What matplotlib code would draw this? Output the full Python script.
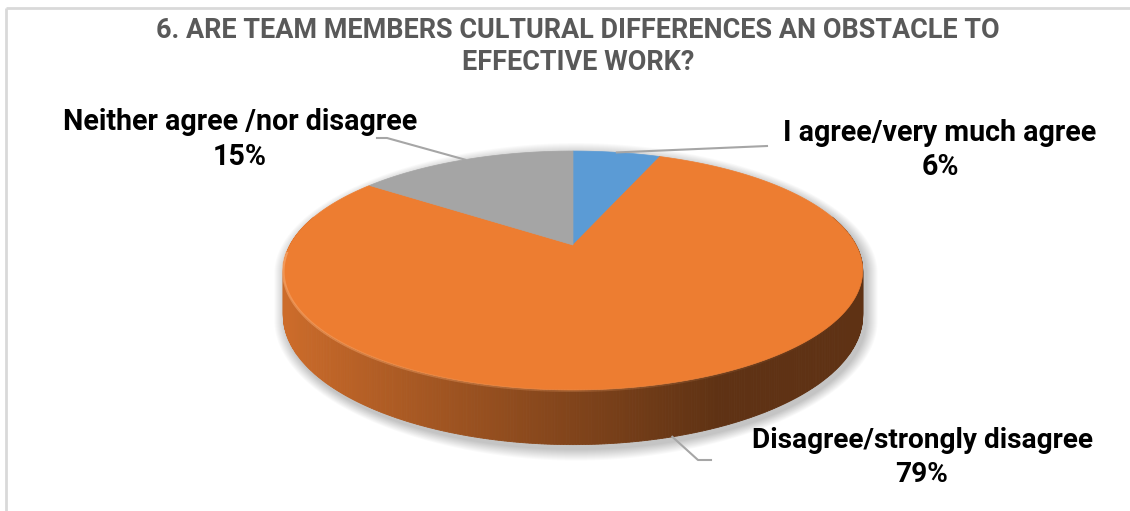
import numpy as np
import matplotlib.pyplot as plt
import matplotlib.colors as mcolors
from matplotlib.collections import LineCollection

# Survey answers (percent)
categories = ["I agree/very much agree", "Disagree/strongly disagree", "Neither agree /nor disagree"]
shares = [6, 79, 15]
slice_colors = ["#5B9BD5", "#ED7D31", "#A5A5A5"]
title_lines = ["6. ARE TEAM MEMBERS CULTURAL DIFFERENCES AN OBSTACLE TO", "EFFECTIVE WORK?"]

FONT = ["Liberation Sans Narrow", "Roboto", "DejaVu Sans"]
plt.rcParams["font.family"] = FONT

# pie geometry in pixels (perspective disc)
CX, CY = 573, 245      # apex of the slices
R, RY = 283, 114
P = 0.2135             # perspective strength
H = 43                 # thickness of the disc


def proj(t_deg, depth=0.0):
    t = np.radians(t_deg)
    u, v = np.cos(t), np.sin(t)
    s = 1.0 / (1.0 + P * v)
    return CX + R * u * s, CY - RY * v * s + depth * s


# slice angles: start at 12 o'clock, clockwise
total = float(sum(shares))
bounds = 90 - 360 * np.concatenate([[0], np.cumsum(shares)]) / total
theta0, theta1 = bounds[:-1], bounds[1:]


def slice_at(t_deg):
    frac = ((90 - t_deg) % 360) / 360.0
    cum = np.cumsum(shares) / total
    return int(np.searchsorted(cum, frac, side="right"))


fig = plt.figure(figsize=(11.3, 5.11), dpi=100)
ax = fig.add_axes([0, 0, 1, 1])
ax.set_xlim(0, 1130)
ax.set_ylim(511, 0)
ax.axis("off")

# chart border
ax.plot([6, 1130], [8, 8], color="#D9D9D9", lw=2, solid_capstyle="butt")
ax.plot([6, 6], [8, 511], color="#D9D9D9", lw=2, solid_capstyle="butt")

# soft shadow around the outline
t_sil = np.degrees(np.arcsin(P))
t_back = np.linspace(-t_sil, 180 + t_sil, 200)
t_front = np.linspace(180 + t_sil, 360 - t_sil, 200)
bx, by = proj(t_back)
fx, fy = proj(t_front, H)
sx = np.concatenate([bx, fx])
sy = np.concatenate([by, fy])
dx, dy = sx - CX, sy - 300
dn = np.hypot(dx, dy)
for k in range(12, 0, -1):
    ax.fill(sx + dx / dn * k + 3, sy + dy / dn * k + 4, color="black",
            alpha=0.02, lw=0, zorder=1)

# side wall, shaded from left to right
step = 0.5
for t in np.arange(165, 375, step):
    idx = slice_at(t + step / 2)
    x0, y0 = proj(t)
    x1, y1 = proj(t + step)
    x2, y2 = proj(t + step, H)
    x3, y3 = proj(t, H)
    xm = (x0 + x1) / 2
    f = 0.86 - 0.46 * np.clip((xm - 290) / (720 - 290), 0, 1) ** 0.9
    base = np.array(mcolors.to_rgb(slice_colors[idx]))
    col = base * f
    ax.fill([x0, x1, x2, x3], [y0, y1, y2, y3], color=col, lw=0.6, ec=col, zorder=2)

# top face
for i, (a0, a1) in enumerate(zip(theta0, theta1)):
    ts = np.linspace(a0, a1, 300)
    px, py = proj(ts)
    ax.fill(np.concatenate([[CX], px]), np.concatenate([[CY], py]),
            color=slice_colors[i], lw=0.5, ec=slice_colors[i], zorder=3)

# light rim on the front edge, fading to the right
ts = np.linspace(183, 330, 300)
rx, ry = proj(ts)
pts = np.column_stack([rx, ry + 0.8]).reshape(-1, 1, 2)
segs = np.concatenate([pts[:-1], pts[1:]], axis=1)
fade = np.clip(1 - (ts[:-1] - 183) / (330 - 183), 0, 1) ** 1.3
rim_rgba = [(0.97, 0.66, 0.43, 0.75 * a) for a in fade]
ax.add_collection(LineCollection(segs, colors=rim_rgba, linewidths=1.8, zorder=4))

# labels with leader lines
mid = (theta0 + theta1) / 2
label_pos = [(940, 133, 167), (922, 440, 474), (240, 122, 157)]
label_w = [314, 341, 355]
elbows = [[(767, 146)], [(698, 460), (711, 460)], [(387, 138), (377, 138)]]

renderer = fig.canvas.get_renderer()


def fit(txt, width):
    bb = txt.get_window_extent(renderer)
    txt.set_fontsize(txt.get_fontsize() * width / bb.width)


for i, name in enumerate(categories):
    depth = H if np.sin(np.radians(mid[i])) < 0 else 0
    lx, ly = proj(mid[i], depth)
    xs = [lx] + [p[0] for p in elbows[i]]
    ys = [ly] + [p[1] for p in elbows[i]]
    ax.plot(xs, ys, color="#A6A6A6", lw=1.5, zorder=5)
    x, y1, y2 = label_pos[i]
    t1 = ax.text(x, y1, name, ha="center", va="center", fontsize=18,
                 fontweight="bold", color="black", zorder=6)
    fit(t1, label_w[i])
    ax.text(x, y2, f"{shares[i]}%", ha="center", va="center",
            fontsize=t1.get_fontsize(), fontweight="bold", color="black", zorder=6)

# title
tt = ax.text(578, 30, title_lines[0], ha="center", va="center", fontsize=16,
             fontweight="bold", color="#595959")
fit(tt, 843)
ax.text(578, 62, title_lines[1], ha="center", va="center",
        fontsize=tt.get_fontsize(), fontweight="bold", color="#595959")

fig.savefig("out.png", dpi=100)
